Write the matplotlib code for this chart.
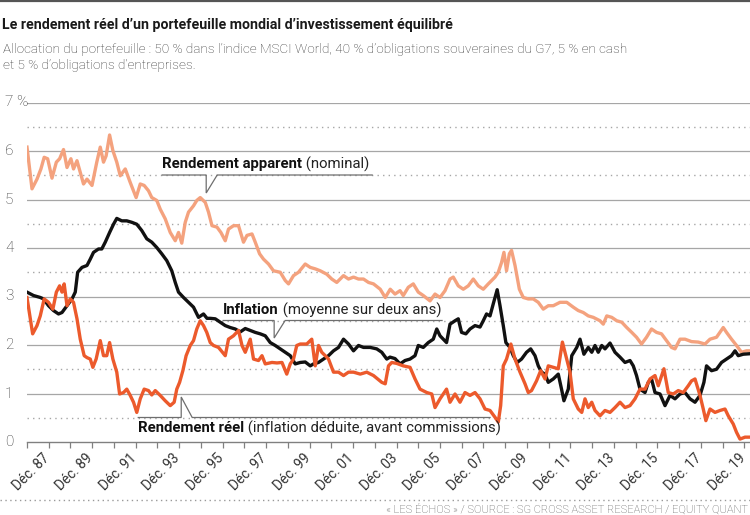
import matplotlib.pyplot as plt
import matplotlib.transforms as mtransforms
import numpy as np

plt.rcParams['font.family'] = ['Roboto', 'DejaVu Sans']

# (decimal year, %), Dec 1986 -> early 2020
nominal = [
    (1986.92, 6.08), (1987.15, 5.22), (1987.38, 5.42), (1987.56, 5.63), (1987.71, 5.87), (1987.87, 5.84),
    (1988.07, 5.44), (1988.27, 5.77), (1988.42, 5.84), (1988.60, 6.03), (1988.76, 5.66), (1988.94, 5.84),
    (1989.06, 5.63), (1989.22, 5.80), (1989.52, 5.32), (1989.68, 5.42), (1989.91, 5.29), (1990.13, 5.77),
    (1990.29, 6.08), (1990.44, 5.77), (1990.56, 5.90), (1990.72, 6.33), (1990.87, 6.01), (1991.05, 5.77),
    (1991.21, 5.49), (1991.44, 5.63), (1991.67, 5.35), (1991.94, 5.04), (1992.13, 5.32), (1992.31, 5.29),
    (1992.51, 5.18), (1992.66, 5.04), (1992.89, 4.98), (1993.05, 4.80), (1993.28, 4.60), (1993.51, 4.32),
    (1993.74, 4.15), (1993.89, 4.32), (1994.04, 4.10), (1994.20, 4.53), (1994.35, 4.74), (1994.58, 4.87),
    (1994.73, 4.98), (1994.89, 5.04), (1995.12, 4.94), (1995.27, 4.74), (1995.43, 4.46), (1995.66, 4.43),
    (1995.84, 4.32), (1996.04, 4.15), (1996.19, 4.39), (1996.42, 4.46), (1996.65, 4.46), (1996.88, 4.12),
    (1997.04, 4.26), (1997.27, 4.29), (1997.42, 4.12), (1997.62, 3.88), (1997.80, 3.77), (1998.03, 3.67),
    (1998.26, 3.53), (1998.57, 3.50), (1998.80, 3.33), (1998.95, 3.26), (1999.18, 3.43), (1999.41, 3.50),
    (1999.72, 3.67), (1999.95, 3.60), (2000.18, 3.57), (2000.41, 3.53), (2000.71, 3.46), (2000.94, 3.36),
    (2001.17, 3.29), (2001.48, 3.43), (2001.71, 3.36), (2001.94, 3.40), (2002.17, 3.36), (2002.40, 3.36),
    (2002.63, 3.29), (2002.86, 3.26), (2003.17, 3.15), (2003.40, 2.98), (2003.63, 3.15), (2003.85, 3.05),
    (2004.08, 3.12), (2004.23, 3.02), (2004.46, 3.19), (2004.69, 3.26), (2004.92, 3.09), (2005.15, 3.02),
    (2005.46, 2.91), (2005.69, 3.05), (2005.92, 2.98), (2006.15, 3.12), (2006.38, 3.36), (2006.53, 3.40),
    (2006.76, 3.22), (2006.99, 3.15), (2007.22, 3.22), (2007.45, 3.36), (2007.68, 3.22), (2007.91, 3.15),
    (2008.14, 3.26), (2008.45, 3.40), (2008.60, 3.50), (2008.75, 3.70), (2008.86, 3.91), (2008.98, 3.53),
    (2009.11, 3.88), (2009.21, 3.95), (2009.37, 3.64), (2009.57, 3.15), (2009.75, 2.98), (2009.98, 2.95),
    (2010.21, 2.95), (2010.44, 2.88), (2010.67, 2.74), (2010.90, 2.81), (2011.13, 2.81), (2011.44, 2.88),
    (2011.75, 2.88), (2012.05, 2.78), (2012.28, 2.71), (2012.51, 2.67), (2012.74, 2.60), (2012.97, 2.57),
    (2013.28, 2.50), (2013.43, 2.43), (2013.59, 2.60), (2013.82, 2.57), (2014.05, 2.50), (2014.28, 2.47),
    (2014.51, 2.36), (2014.74, 2.26), (2014.96, 2.16), (2015.19, 2.02), (2015.42, 2.16), (2015.65, 2.33),
    (2015.88, 2.26), (2016.11, 2.23), (2016.34, 2.09), (2016.57, 1.95), (2016.73, 1.92), (2016.96, 2.12),
    (2017.19, 2.12), (2017.49, 2.07), (2017.80, 2.06), (2018.11, 2.02), (2018.34, 2.12), (2018.64, 2.16),
    (2018.95, 2.36), (2019.10, 2.26), (2019.33, 2.12), (2019.56, 1.99), (2019.79, 1.85), (2020.02, 1.88),
    (2020.18, 1.88),
]

inflation = [
    (1986.92, 3.09), (1987.22, 3.02), (1987.53, 2.98), (1987.68, 2.95), (1987.91, 2.81), (1988.14, 2.71),
    (1988.37, 2.64), (1988.53, 2.67), (1988.76, 2.81), (1988.99, 2.95), (1989.14, 3.09), (1989.25, 3.50),
    (1989.45, 3.60), (1989.68, 3.64), (1989.83, 3.77), (1989.98, 3.91), (1990.21, 3.98), (1990.36, 3.98),
    (1990.52, 4.12), (1990.72, 4.32), (1990.90, 4.49), (1991.05, 4.61), (1991.28, 4.56), (1991.51, 4.56),
    (1991.74, 4.53), (1991.97, 4.49), (1992.20, 4.36), (1992.43, 4.19), (1992.66, 4.12), (1992.89, 4.01),
    (1993.12, 3.88), (1993.35, 3.74), (1993.58, 3.53), (1993.74, 3.29), (1993.89, 3.09), (1994.12, 2.98),
    (1994.35, 2.88), (1994.58, 2.78), (1994.81, 2.57), (1995.04, 2.64), (1995.20, 2.55), (1995.35, 2.55),
    (1995.58, 2.54), (1995.81, 2.47), (1996.04, 2.40), (1996.27, 2.36), (1996.50, 2.33), (1996.73, 2.27),
    (1996.96, 2.34), (1997.19, 2.30), (1997.42, 2.26), (1997.65, 2.23), (1997.88, 2.19), (1998.11, 2.05),
    (1998.34, 1.99), (1998.57, 1.92), (1998.80, 1.85), (1999.03, 1.78), (1999.26, 1.61), (1999.49, 1.64),
    (1999.72, 1.65), (1999.95, 1.57), (2000.10, 1.61), (2000.33, 1.64), (2000.56, 1.71), (2000.79, 1.78),
    (2001.02, 1.88), (2001.25, 1.95), (2001.48, 2.12), (2001.71, 2.02), (2001.94, 1.88), (2002.17, 1.99),
    (2002.40, 1.95), (2002.71, 1.95), (2003.01, 1.92), (2003.24, 1.85), (2003.47, 1.71), (2003.62, 1.75),
    (2003.85, 1.72), (2004.08, 1.61), (2004.31, 1.68), (2004.54, 1.71), (2004.77, 1.78), (2004.92, 1.99),
    (2005.15, 1.95), (2005.38, 2.05), (2005.61, 2.12), (2005.77, 2.33), (2005.92, 2.19), (2006.07, 2.12),
    (2006.22, 2.05), (2006.38, 2.43), (2006.61, 2.50), (2006.76, 2.54), (2006.91, 2.26), (2007.11, 2.23),
    (2007.30, 2.33), (2007.53, 2.40), (2007.76, 2.37), (2007.91, 2.50), (2008.06, 2.64), (2008.22, 2.60),
    (2008.37, 2.85), (2008.55, 3.14), (2008.68, 2.81), (2008.83, 2.40), (2008.95, 2.05), (2009.14, 1.95),
    (2009.29, 1.78), (2009.47, 1.64), (2009.67, 1.71), (2009.90, 1.85), (2010.09, 1.92), (2010.29, 1.78),
    (2010.44, 1.57), (2010.59, 1.44), (2010.75, 1.40), (2010.90, 1.23), (2011.13, 1.30), (2011.36, 1.40),
    (2011.51, 1.09), (2011.62, 0.85), (2011.82, 1.09), (2011.98, 1.78), (2012.21, 1.95), (2012.36, 2.12),
    (2012.54, 1.81), (2012.74, 1.95), (2012.90, 1.85), (2013.05, 1.99), (2013.20, 1.85), (2013.36, 1.99),
    (2013.51, 1.92), (2013.74, 2.04), (2013.97, 1.85), (2014.20, 1.75), (2014.43, 1.64), (2014.66, 1.68),
    (2014.81, 1.57), (2014.96, 1.37), (2015.12, 1.09), (2015.35, 1.02), (2015.50, 1.23), (2015.65, 1.30),
    (2015.81, 1.02), (2016.04, 0.99), (2016.27, 0.75), (2016.50, 0.96), (2016.73, 0.89), (2016.96, 0.99),
    (2017.19, 1.02), (2017.42, 0.89), (2017.65, 0.82), (2017.88, 0.96), (2018.06, 1.23), (2018.18, 1.57),
    (2018.41, 1.47), (2018.64, 1.50), (2018.87, 1.64), (2019.10, 1.71), (2019.33, 1.78), (2019.49, 1.88),
    (2019.64, 1.78), (2019.87, 1.81), (2020.18, 1.82),
]

real = [
    (1986.92, 2.98), (1987.18, 2.23), (1987.38, 2.40), (1987.53, 2.60), (1987.71, 2.95), (1987.91, 2.88),
    (1988.11, 2.74), (1988.27, 3.09), (1988.42, 3.22), (1988.53, 3.09), (1988.63, 3.26), (1988.76, 2.81),
    (1988.91, 2.95), (1989.06, 2.88), (1989.22, 2.54), (1989.37, 2.12), (1989.55, 1.78), (1989.68, 1.74),
    (1989.83, 1.71), (1989.95, 1.54), (1990.10, 1.71), (1990.29, 2.09), (1990.44, 1.78), (1990.59, 1.78),
    (1990.72, 2.05), (1990.87, 1.71), (1991.05, 1.44), (1991.18, 0.99), (1991.36, 1.02), (1991.51, 1.09),
    (1991.67, 0.96), (1991.82, 0.82), (1991.97, 0.61), (1992.13, 0.89), (1992.31, 1.09), (1992.51, 1.06),
    (1992.66, 0.97), (1992.82, 1.06), (1993.05, 0.96), (1993.28, 0.85), (1993.51, 0.75), (1993.69, 0.82),
    (1993.81, 1.09), (1993.94, 1.23), (1994.09, 1.47), (1994.24, 1.78), (1994.43, 1.99), (1994.58, 2.09),
    (1994.73, 2.33), (1994.89, 2.50), (1995.04, 2.40), (1995.19, 2.26), (1995.35, 2.05), (1995.50, 1.99),
    (1995.73, 1.95), (1996.04, 1.78), (1996.19, 2.12), (1996.42, 2.19), (1996.65, 2.30), (1996.81, 1.99),
    (1996.96, 1.85), (1997.19, 2.12), (1997.34, 1.71), (1997.57, 1.68), (1997.73, 1.78), (1997.88, 1.61),
    (1998.19, 1.64), (1998.42, 1.63), (1998.65, 1.64), (1998.87, 1.40), (1999.03, 1.61), (1999.18, 1.71),
    (1999.33, 1.99), (1999.49, 2.02), (1999.79, 2.02), (2000.02, 2.12), (2000.18, 1.57), (2000.33, 1.99),
    (2000.48, 1.85), (2000.64, 1.78), (2000.79, 1.71), (2001.02, 1.44), (2001.25, 1.44), (2001.48, 1.37),
    (2001.71, 1.44), (2001.94, 1.44), (2002.25, 1.40), (2002.55, 1.44), (2002.86, 1.37), (2003.24, 1.23),
    (2003.40, 1.20), (2003.55, 1.57), (2003.70, 1.64), (2003.93, 1.62), (2004.23, 1.57), (2004.54, 1.54),
    (2004.77, 1.30), (2005.00, 1.09), (2005.31, 1.02), (2005.54, 0.99), (2005.69, 0.71), (2005.92, 0.89),
    (2006.22, 1.09), (2006.38, 0.82), (2006.61, 0.99), (2006.84, 0.82), (2007.07, 1.02), (2007.30, 0.96),
    (2007.53, 1.02), (2007.76, 0.89), (2007.99, 0.68), (2008.22, 0.65), (2008.45, 0.51), (2008.60, 0.41),
    (2008.71, 0.75), (2008.83, 1.57), (2008.98, 1.71), (2009.18, 2.02), (2009.37, 1.71), (2009.60, 1.44),
    (2009.83, 1.20), (2009.98, 1.02), (2010.13, 1.06), (2010.36, 1.26), (2010.55, 1.47), (2010.75, 1.30),
    (2010.90, 1.57), (2011.13, 1.54), (2011.36, 1.51), (2011.55, 2.06), (2011.75, 1.71), (2011.90, 1.44),
    (2012.05, 0.89), (2012.28, 0.68), (2012.44, 0.61), (2012.59, 0.89), (2012.74, 0.71), (2012.90, 0.82),
    (2013.05, 0.65), (2013.28, 0.54), (2013.51, 0.65), (2013.74, 0.61), (2013.97, 0.71), (2014.20, 0.82),
    (2014.43, 0.71), (2014.66, 0.75), (2014.89, 0.89), (2015.12, 1.09), (2015.35, 1.09), (2015.58, 1.30),
    (2015.81, 1.37), (2015.96, 1.16), (2016.22, 1.51), (2016.42, 1.02), (2016.65, 0.99), (2016.88, 1.06),
    (2017.11, 1.02), (2017.34, 1.16), (2017.49, 1.26), (2017.65, 1.30), (2017.88, 0.96), (2018.03, 0.68),
    (2018.15, 0.44), (2018.34, 0.68), (2018.57, 0.61), (2018.80, 0.65), (2019.03, 0.68), (2019.18, 0.54),
    (2019.41, 0.37), (2019.56, 0.20), (2019.72, 0.06), (2019.95, 0.10), (2020.18, 0.10),
]

tick_years = list(range(1986, 2020))          # one tick per December
label_years = list(range(1987, 2020, 2))      # "Déc. 87" ... "Déc. 19"
y_labels = ['0', '1', '2', '3', '4', '5', '6', '7 %']

c_nominal = '#f4a27e'
c_real = '#ec5a2c'
c_infl = '#111111'
c_grid = '#a6a6a6'
c_call = '#6e6e6e'

W, H = 750, 515
fig = plt.figure(figsize=(W / 100, H / 100), dpi=100)


def fx(px):
    return px / W


def fy(py):
    return 1 - py / H


ax = fig.add_axes([fx(27), fy(442), fx(750) - fx(27), fy(102.5) - fy(442)])
x0 = 1986.92
ax.set_xlim(x0, 2020.18)
ax.set_ylim(0, 7)

# grid: solid on units, dotted on halves
for v in range(1, 8):
    ax.axhline(v, color=c_grid, lw=0.9, zorder=1)
for v in np.arange(0.5, 7, 1.0):
    ax.axhline(v, color=c_grid, lw=1.0, ls=(0, (1, 3)), zorder=1)

for s in ['left', 'right', 'top']:
    ax.spines[s].set_visible(False)
ax.spines['bottom'].set_color('#808080')
ax.spines['bottom'].set_linewidth(1.0)

ticks = [y + 0.92 for y in tick_years]
labels = [f"Déc. {y % 100:02d}" if y in label_years else '' for y in tick_years]
ax.set_xticks(ticks, labels=labels)
ax.tick_params(axis='x', direction='out', length=4, width=0.9, color='#808080',
               labelsize=9.8, labelcolor='#333333', pad=6)
shift = mtransforms.ScaledTranslation(-1 / 72, 0, fig.dpi_scale_trans)
for lbl in ax.get_xticklabels():
    lbl.set_rotation(45)
    lbl.set_ha('right')
    lbl.set_va('center')
    lbl.set_rotation_mode('anchor')
    lbl.set_transform(lbl.get_transform() + shift)
ax.set_yticks([])

for i, lab in enumerate(y_labels):
    ax.text(-22 / 723, i, lab, transform=ax.get_yaxis_transform(), ha='left', va='center',
            fontsize=11, color='#333333', fontweight='light')

# series
for data, col, z in [(nominal, c_nominal, 3), (inflation, c_infl, 4), (real, c_real, 5)]:
    t, v = zip(*data)
    ax.plot(t, v, color=col, lw=2.4, zorder=z, solid_joinstyle='round')


def px2x(px):
    return x0 + (px - 26.7) / 21.75


def py2y(py):
    return (442 - py) / 48.5


def callout(x_start, x_end, x_notch, y_line, y_tip):
    xs = [px2x(x_start), px2x(x_notch), px2x(x_notch), px2x(x_notch + 11), px2x(x_end)]
    ys = [py2y(y_line), py2y(y_line), py2y(y_tip), py2y(y_line), py2y(y_line)]
    ax.plot(xs, ys, color=c_call, lw=0.9, zorder=2, solid_joinstyle='miter')


def label(px, py, bold, rest):
    t1 = ax.text(px2x(px), py2y(py), bold, fontsize=10.7, fontweight='bold', color='#111111',
                 ha='left', va='center', zorder=6)
    ax.annotate(rest, xy=(1, 0.5), xycoords=t1, ha='left', va='center', fontsize=10.7,
                color='#222222', zorder=6)


callout(162, 372, 206, 175, 193)
label(162, 164, 'Rendement apparent', ' (nominal)')
callout(223, 442, 274, 320.5, 338)
label(223, 310, 'Inflation', ' (moyenne sur deux ans)')
callout(138, 490, 181, 417.5, 397)
label(138, 428, 'Rendement réel', ' (inflation déduite, avant commissions)')

# header / footer
fig.add_artist(plt.Line2D([0, 1], [fy(1), fy(1)], color='#555555', lw=1.6))
fig.text(fx(2), fy(29.5), "Le rendement réel d’un portefeuille mondial d’investissement équilibré",
         fontweight='bold', fontsize=10.2, color='#1a1a1a', va='baseline', ha='left')
fig.text(fx(3), fy(52.5), "Allocation du portefeuille : 50 % dans l’indice MSCI World, 40 % d’obligations "
         "souveraines du G7, 5 % en cash", fontsize=9.7, fontweight='light', color='#333333',
         va='baseline', ha='left')
fig.text(fx(3), fy(69), "et 5 % d’obligations d’entreprises.", fontsize=9.7, fontweight='light',
         color='#333333', va='baseline', ha='left')
fig.add_artist(plt.Line2D([0, 1], [fy(500), fy(500)], color='#999999', lw=1.0, ls=(0, (1, 2.5))))
fig.text(fx(748), fy(509), "« LES ÉCHOS » / SOURCE : SG CROSS ASSET RESEARCH / EQUITY QUANT",
         fontsize=8, color='#555555', ha='right', va='center', fontweight='light')

fig.savefig('out.png', dpi=100)
